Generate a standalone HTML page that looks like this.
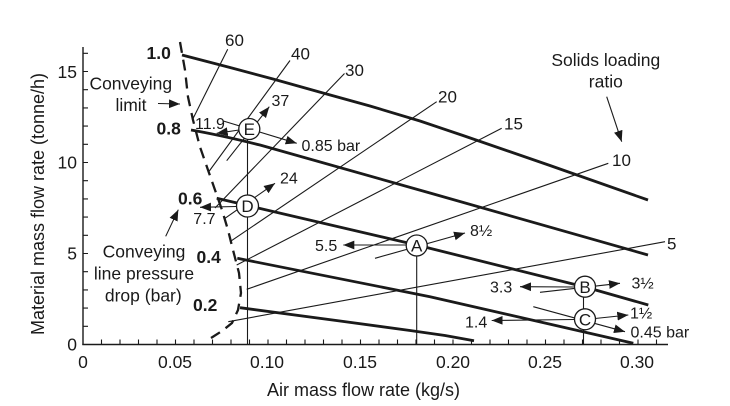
<!DOCTYPE html>
<html><head><meta charset="utf-8"><style>
html,body{margin:0;padding:0;background:#fff;}
svg{display:block;}
text{font-family:"Liberation Sans",Arial,sans-serif;fill:#1a1a1a;}
</style></head><body>
<svg width="730" height="406" viewBox="0 0 730 406" xmlns="http://www.w3.org/2000/svg">
<defs>
<marker id="ah" viewBox="0 0 10 8" refX="10" refY="4" markerWidth="11" markerHeight="9" markerUnits="userSpaceOnUse" orient="auto"><path d="M0,0 L10,4 L0,8 z" fill="#1a1a1a"/></marker>
</defs>
<g stroke="#1a1a1a" fill="none">
<!-- axes -->
<line x1="83" y1="47" x2="83" y2="345" stroke-width="1.4"/>
<line x1="82.3" y1="344.5" x2="668" y2="344.5" stroke-width="1.4"/>
<path stroke-width="1.1" d="M83,344.5h5M83,326.3h5M83,308.1h5M83,289.9h5M83,271.7h5M83,253.5h5M83,235.3h5M83,217.1h5M83,198.9h5M83,180.7h5M83,162.5h5M83,144.3h5M83,126.1h5M83,107.9h5M83,89.7h5M83,71.5h5M83,53.3h5"/>
<path stroke-width="1.1" d="M101.5,344.5v-5M120,344.5v-5M138.5,344.5v-5M157,344.5v-5M175.5,344.5v-5M194,344.5v-5M212.5,344.5v-5M231,344.5v-5M249.5,344.5v-5M268,344.5v-5M286.5,344.5v-5M305,344.5v-5M323.5,344.5v-5M342,344.5v-5M360.5,344.5v-5M379,344.5v-5M397.5,344.5v-5M416,344.5v-5M434.5,344.5v-5M453,344.5v-5M471.5,344.5v-5M490,344.5v-5M508.5,344.5v-5M527,344.5v-5M545.5,344.5v-5M564,344.5v-5M582.5,344.5v-5M601,344.5v-5M619.5,344.5v-5M638,344.5v-5M656.5,344.5v-5"/>

<!-- thin solids loading ratio lines -->
<g stroke-width="1.1">
<line x1="192.3" y1="120" x2="227.7" y2="49.3"/>
<line x1="209.3" y1="171" x2="290" y2="60.5"/>
<line x1="215" y1="208" x2="344.5" y2="73.5"/>
<line x1="230" y1="241.7" x2="436.7" y2="101.7"/>
<line x1="236.7" y1="265" x2="501.7" y2="128.3"/>
<line x1="246.7" y1="289.3" x2="608.3" y2="163.3"/>
<line x1="228.3" y1="321.7" x2="665" y2="241.7"/>
<!-- verticals -->
<line x1="247.5" y1="139" x2="247.5" y2="344.5"/>
<line x1="416.7" y1="255" x2="416.7" y2="344.5"/>
<line x1="583.5" y1="296" x2="583.5" y2="344.5"/>
</g>

<!-- thick pressure lines -->
<g stroke-width="2.8" stroke-linejoin="round">
<path d="M182,55 L230,67.5 L273,79 L323,93 L370,106 L420,121 L463,135.5 L550,165.5 L648,200"/>
<path d="M191,130 C220,135 240,140 260,145 L430,193 L648,255"/>
<path d="M216.7,198.3 L416.7,245 L585,287 L648.3,305"/>
<path d="M237.3,258.3 L430,296.7 L633.3,343.3"/>
<path d="M240,307.7 L340,321 L410,330.5 L445,335.5 L474,340.7"/>
</g>

<!-- conveying limit dashed -->
<path stroke-width="2.3" stroke-dasharray="11 7" d="M180,42 L185,70 L188,97 L193,120 L200,147 L208,170 L215,190 L222,210 L228,230 L233,250 L239,273 L241,293 L238,310 L232,323 L222,331 L211,338"/>

<!-- annotation arrows -->
<g stroke-width="1.1" marker-end="url(#ah)">
<line x1="158" y1="103.5" x2="180" y2="104"/>
<line x1="165.7" y1="236.3" x2="178.3" y2="209.7"/>
<line x1="606.7" y1="96.7" x2="621.7" y2="141.7"/>
<line x1="226.7" y1="160.7" x2="269.3" y2="106.7"/>
<line x1="239" y1="130" x2="216.7" y2="133.3"/>
<line x1="223.3" y1="121" x2="296.7" y2="143.3"/>
<line x1="225" y1="218.3" x2="275" y2="183.3"/>
<line x1="236" y1="206.5" x2="200" y2="207.3"/>
<line x1="375" y1="258.3" x2="465" y2="233"/>
<line x1="406" y1="245" x2="343.3" y2="245"/>
<line x1="540" y1="292.3" x2="620" y2="283.3"/>
<line x1="574" y1="287" x2="520" y2="286.7"/>
<line x1="533.3" y1="306.7" x2="625" y2="331.7"/>
<line x1="595" y1="318.5" x2="628.3" y2="315"/>
<line x1="574" y1="319.5" x2="491.7" y2="320.5"/>
</g>

<!-- circles -->
<g fill="#fff" stroke-width="1.3">
<circle cx="249.3" cy="129" r="10.5"/>
<circle cx="247.5" cy="206" r="11"/>
<circle cx="416.7" cy="245.5" r="10.5"/>
<circle cx="585" cy="286.7" r="10.5"/>
<circle cx="585" cy="319.3" r="10.5"/>
</g>
</g>

<!-- circle letters -->
<g font-size="17" text-anchor="middle">
<text x="249.3" y="135.2">E</text>
<text x="247.5" y="212.2">D</text>
<text x="416.7" y="251.7">A</text>
<text x="585" y="292.9">B</text>
<text x="585" y="325.5">C</text>
</g>

<!-- tick labels -->
<g font-size="17.5" text-anchor="end">
<text x="77" y="78">15</text>
<text x="77" y="168.5">10</text>
<text x="77" y="259.5">5</text>
<text x="77" y="350.5">0</text>
</g>
<g font-size="17.5" text-anchor="middle">
<text x="83" y="368">0</text>
<text x="175" y="368">0.05</text>
<text x="267" y="368">0.10</text>
<text x="360" y="368">0.15</text>
<text x="453" y="368">0.20</text>
<text x="545" y="368">0.25</text>
<text x="637" y="368">0.30</text>
</g>
<text x="363.5" y="396" font-size="18" text-anchor="middle">Air mass flow rate (kg/s)</text>
<text transform="translate(44,204) rotate(-90)" font-size="18" text-anchor="middle">Material mass flow rate (tonne/h)</text>

<!-- loading ratio labels -->
<g font-size="17">
<text x="225" y="46">60</text>
<text x="291" y="59.3">40</text>
<text x="345" y="76">30</text>
<text x="438" y="102.7">20</text>
<text x="504" y="129.3">15</text>
<text x="612" y="166">10</text>
<text x="667" y="249.3">5</text>
</g>

<!-- bold pressure labels -->
<g font-size="17.5" font-weight="bold">
<text x="146.5" y="59">1.0</text>
<text x="156.5" y="134.5">0.8</text>
<text x="178" y="204.5">0.6</text>
<text x="196.5" y="263">0.4</text>
<text x="193" y="311">0.2</text>
</g>

<!-- descriptive texts -->
<g font-size="17.5" text-anchor="middle">
<text x="130.8" y="89.5">Conveying</text>
<text x="131" y="111">limit</text>
<text x="144" y="257.5">Conveying</text>
<text x="144" y="279.7">line pressure</text>
<text x="143.3" y="301.7">drop (bar)</text>
<text x="605.8" y="66">Solids loading</text>
<text x="605.8" y="87.7">ratio</text>
</g>

<!-- annotation numbers -->
<g font-size="16">
<text x="195" y="129">11.9</text>
<text x="271.5" y="106">37</text>
<text x="301.5" y="151">0.85 bar</text>
<text x="280" y="183.3">24</text>
<text x="193.3" y="224">7.7</text>
<text x="315" y="251">5.5</text>
<text x="470" y="236">8½</text>
<text x="490" y="292.7">3.3</text>
<text x="631.5" y="288.7">3½</text>
<text x="630" y="318.7">1½</text>
<text x="465" y="327.7">1.4</text>
<text x="630.5" y="337.7">0.45 bar</text>
</g>
</svg>
</body></html>
